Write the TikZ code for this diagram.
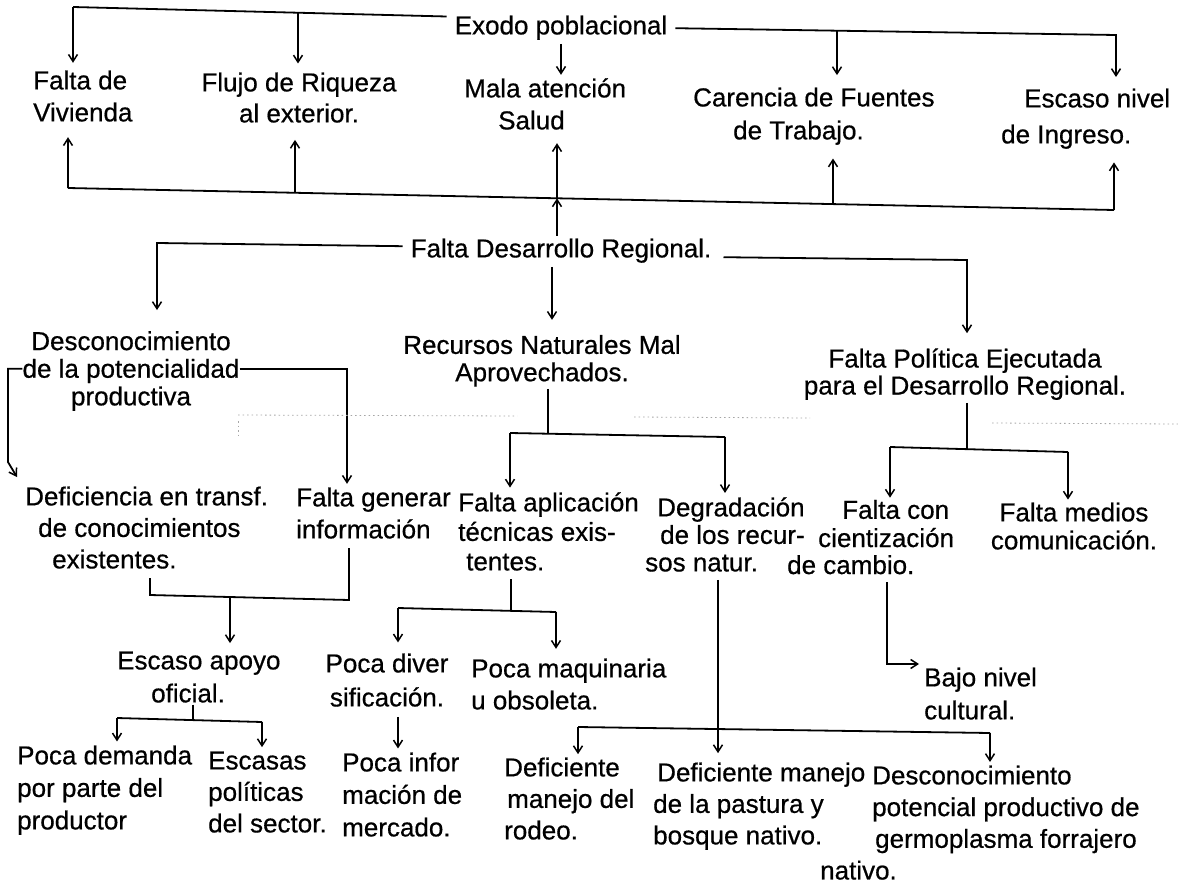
\documentclass[tikz,border=0pt]{standalone}
\usepackage{fontspec}
\setmainfont{Liberation Sans}
\newfontfamily\scanfont{Liberation Sans}[FakeBold=0.6]
\usetikzlibrary{arrows.meta}
\tikzset{
  lbl/.style={inner sep=0pt, font=\scanfont\fontsize{26}{#1}\selectfont},
  lbl/.default=31,
  bus/.style={line width=1.8pt},
  arr/.style={line width=1.8pt, -{Straight Barb[length=7pt,width=9pt,line width=1.5pt]}},
  scan/.style={black!35, line width=0.8pt, dash pattern=on 1.5pt off 3pt}
}
\begin{document}
\begin{tikzpicture}[x=1pt,y=-1pt]
\fill[white] (0,0) rectangle (1178,883);
\useasboundingbox (0,0) rectangle (1178,883);

% ---------- nodes ----------
\node[lbl] (ex) at (561,28.2) {\strut Exodo poblacional};
\node[lbl=32, align=left, anchor=west] (fv) at (33,99) {\strut Falta de\\\strut Vivienda};
\node[lbl=31, align=center] (fr) at (299,100.7) {\strut Flujo de Riqueza\\\strut al exterior.};
\node[lbl=32, align=left, anchor=west] (ms) at (464,107) {\strut Mala atención\\\strut\hspace*{34pt}Salud};
\node[lbl=33, align=left, anchor=west] (cf) at (693,116.3) {\strut Carencia de Fuentes\\\strut\hspace*{40pt}de Trabajo.};
\node[lbl=36, align=left, anchor=west] (en) at (1001,118.2) {\strut\hspace*{23pt}Escaso nivel\\\strut de Ingreso.};

\node[lbl] (fd) at (561,251.2) {\strut Falta Desarrollo Regional.};

\node[lbl=26, align=center] (dp) at (131,372.2) {\strut Desconocimiento\\\strut de la potencialidad\\\strut productiva};
\node[lbl=25, align=center] (rn) at (542,361.9) {\strut Recursos Naturales Mal\\\strut Aprovechados.};
\node[lbl=27, align=center] (fp) at (965,375.5) {\strut Falta Política Ejecutada\\\strut para el Desarrollo Regional.};

\node[lbl=31.5, align=left, anchor=west] (dt) at (25,530.6) {\strut Deficiencia en transf.\\\strut\hspace*{13pt}de conocimientos\\\strut\hspace*{27pt}existentes.};
\node[lbl=32, align=left, anchor=west] (fg) at (296,516) {\strut Falta generar\\\strut información};
\node[lbl=29.5, align=left, anchor=west] (ta) at (458,535) {\strut Falta aplicación\\\strut técnicas exis-\\\strut\hspace*{8pt}tentes.};
\node[lbl=27.5, align=left, anchor=west] (dg) at (645,538.4) {\strut\hspace*{12pt}Degradación\\\strut\hspace*{15pt}de los recur-\\\strut sos natur.};
\node[lbl=27, align=left, anchor=west] (fc) at (787,541) {\strut\hspace*{55pt}Falta con\\\strut\hspace*{31pt}cientización\\\strut de cambio.};
\node[lbl=28, align=center] (fm) at (1074,529.8) {\strut Falta medios\\\strut comunicación.};

\node[lbl=33, align=left, anchor=west] (ea) at (117,679.3) {\strut Escaso apoyo\\\strut\hspace*{34pt}oficial.};
\node[lbl=34, align=center] (pd) at (387,682.6) {\strut Poca diver\\\strut sificación.};
\node[lbl=32, align=left, anchor=west] (pm) at (471,687) {\strut Poca maquinaria\\\strut u obsoleta.};
\node[lbl=33, align=left, anchor=west] (bn) at (924,696.3) {\strut Bajo nivel\\\strut cultural.};

\node[lbl=32.5, align=left, anchor=west] (pdd) at (17,790.4) {\strut Poca demanda\\\strut por parte del\\\strut productor};
\node[lbl=31.5, align=left, anchor=west] (es) at (208,794.6) {\strut Escasas\\\strut políticas\\\strut del sector.};
\node[lbl=32.5, align=left, anchor=west] (pi) at (342,797.4) {\strut Poca infor\\\strut mación de\\\strut mercado.};
\node[lbl=31.5, align=left, anchor=west] (dm) at (504,801.6) {\strut Deficiente\\\strut\hspace*{3pt}manejo del\\\strut rodeo.};
\node[lbl=31.5, align=left, anchor=west] (dmp) at (653,806.6) {\strut\hspace*{4pt}Deficiente manejo\\\strut de la pastura y\\\strut bosque nativo.};
\node[lbl=31.7, align=left, anchor=west] (dpp) at (820,825.6) {\strut\hspace*{52pt}Desconocimiento\\\strut\hspace*{52pt}potencial productivo de\\\strut\hspace*{55pt}germoplasma forrajero\\\strut nativo.};

% ---------- junction coordinates ----------
\coordinate (a1) at (73,7);
\coordinate (a2) at (298,12.5);
\coordinate (b1) at (1116,35);
\coordinate (b2) at (837,30.7);
\coordinate (c1) at (68,188);
\coordinate (c2) at (295,192.8);
\coordinate (c3) at (557,198.3);
\coordinate (c4) at (833,204.1);
\coordinate (c5) at (1114,210);
\coordinate (d1) at (157,243);
\coordinate (d2) at (552,272);
\coordinate (d3) at (967,260);
\coordinate (e1) at (8,368.7);
\coordinate (e2) at (8,462);
\coordinate (e3) at (17,477);
\coordinate (e4) at (347,368.7);
\coordinate (f1) at (548,433.7);
\coordinate (f2) at (510,433);
\coordinate (f3) at (725,437);
\coordinate (g1) at (967,449.5);
\coordinate (g2) at (890,447);
\coordinate (g3) at (1068,452);
\coordinate (h1) at (150,595);
\coordinate (h2) at (349,600);
\coordinate (h3) at (230,597);
\coordinate (i1) at (511,610.9);
\coordinate (i2) at (398,608);
\coordinate (i3) at (556,612);
\coordinate (j1) at (193,720);
\coordinate (j2) at (117,718);
\coordinate (j3) at (262,722);
\coordinate (k1) at (887,664);
\coordinate (l1) at (718,729.4);
\coordinate (l2) at (578,727);
\coordinate (l3) at (990,733);

% ---------- Exodo poblacional ----------
\draw[bus] ([xshift=-8pt,yshift=-4pt]ex.north west) -- (a1);
\draw[arr, shorten >=4pt] (a1) -- (a1 |- fv.north);
\draw[arr, shorten >=6pt] (a2) -- (a2 |- fr.north);
\draw[arr] (ex.south) -- (ex.south |- ms.north);
\draw[arr, shorten >=5pt] ([xshift=8pt]ex.east) -- (b1) -- (b1 |- en.north);
\draw[arr, shorten >=8pt] (b2) -- (b2 |- cf.north);

% ---------- bus between the two levels ----------
\draw[bus] (c1) -- (c5);
\draw[arr, shorten >=6pt] (c1) -- (c1 |- fv.south);
\draw[arr, shorten >=8pt] (c2) -- (c2 |- fr.south);
\draw[arr, shorten >=4pt] (c3) -- (c3 |- ms.south);
\draw[arr, shorten >=9pt] (c4) -- (c4 |- cf.south);
\draw[arr, shorten >=8pt] (c5) -- (c5 |- en.south);
\draw[arr] (fd.north -| c3) -- (c3);

% ---------- Falta Desarrollo Regional ----------
\draw[arr, shorten >=21pt] ([xshift=-8pt,yshift=5pt]fd.west) -- (d1) -- (d1 |- dp.north);
\draw[arr, shorten >=15pt] (fd.south -| d2) -- (d2 |- rn.north);
\draw[arr, shorten >=15pt] ([xshift=12pt,yshift=-6pt]fd.east) -- (d3) -- (d3 |- fp.north);

% ---------- Desconocimiento ----------
\draw[arr] ([yshift=3.5pt]dp.west) -- (e1) -- (e2) -- (e3);
\draw[arr] ([yshift=3.5pt]dp.east) -- (e4) -- (e4 |- fg.north);

% ---------- Recursos Naturales ----------
\draw[bus] (rn.south -| f1) -- (f1);
\draw[bus] (f2) -- (f3);
\draw[arr, shorten >=3pt] (f2) -- (f2 |- ta.north);
\draw[arr, shorten >=4pt] (f3) -- (f3 |- dg.north);

% ---------- Falta Politica ----------
\draw[bus] (fp.south -| g1) -- (g1);
\draw[bus] (g2) -- (g3);
\draw[arr, shorten >=2pt] (g2) -- (g2 |- fc.north);
\draw[arr, shorten >=2pt] (g3) -- (g3 |- fm.north);

% ---------- row 4 ----------
\draw[bus] (h1 |- dt.south) -- (h1) -- (h2) -- (h2 |- fg.south);
\draw[arr, shorten >=3pt] (h3) -- (h3 |- ea.north);
\draw[bus] (ta.south -| i1) -- (i1);
\draw[bus] (i2) -- (i3);
\draw[arr, shorten >=6pt] (i2) -- (i2 |- pd.north);
\draw[arr, shorten >=6pt] (i3) -- (i3 |- pm.north);
\draw[bus] (dg.south -| l1) -- (l1);
\draw[bus] (l2) -- (l3);
\draw[arr] (l2) -- (l2 |- dm.north);
\draw[arr, shorten >=6pt] (l1) -- (l1 |- dmp.north);
\draw[arr] (l3) -- (l3 |- dpp.north);
\draw[arr, shorten >=5pt] (fc.south -| k1) -- (k1) -- (k1 -| bn.west);

% ---------- row 5 ----------
\draw[bus, shorten <=-8pt] (ea.south -| j1) -- (j1);
\draw[bus] (j2) -- (j3);
\draw[arr] (j2) -- (j2 |- pdd.north);
\draw[arr] (j3) -- (j3 |- es.north);
\draw[arr] (pd.south -| i2) -- (i2 |- pi.north);

% ---------- faint scan marks ----------
\draw[scan] (238,415) -- (517,416);
\draw[scan] (634,417) -- (810,418);
\draw[scan] (992,423) -- (1178,424);
\draw[scan] (238,421) -- (238,436);
\end{tikzpicture}
\end{document}
